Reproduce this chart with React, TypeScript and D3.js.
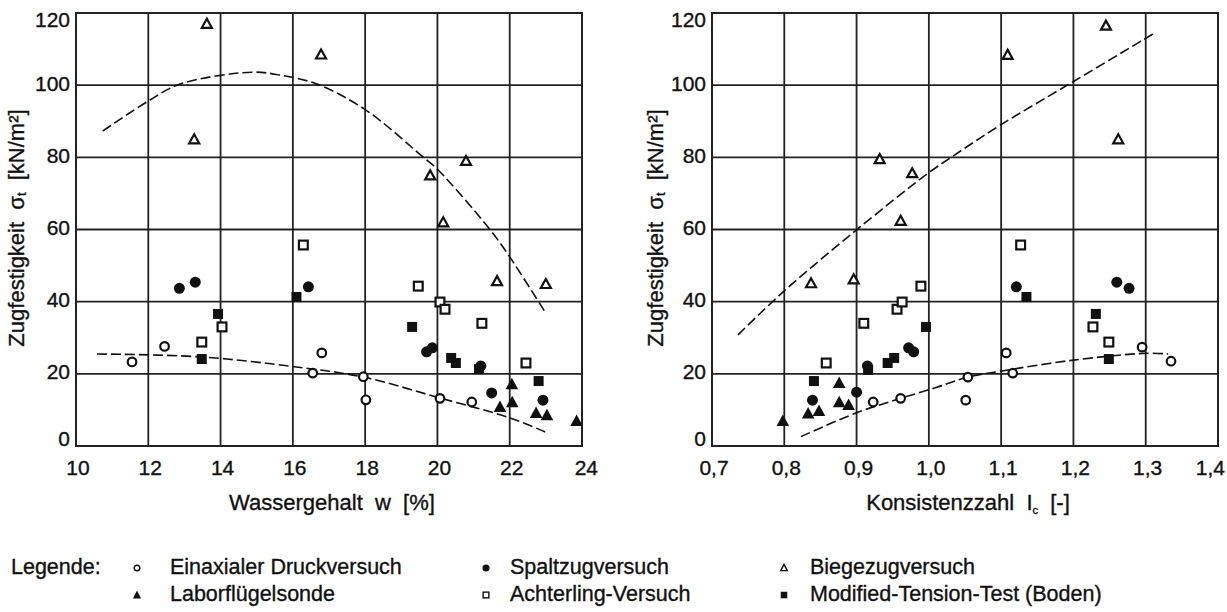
import React from "react";
import * as d3 from "d3";

type Pt = [number, number];

// left panel: Wassergehalt w [%]
const einaxW: Pt[] = [[11.55, 23.3], [12.45, 27.6], [16.55, 20.2], [16.8, 25.8], [17.95, 19.2], [18.02, 12.8], [20.07, 13.2], [20.95, 12.2]];
const spaltW: Pt[] = [[12.86, 43.7], [13.3, 45.4], [16.43, 44.1], [19.7, 26.1], [19.86, 27.2], [21.2, 22.2], [21.5, 14.7], [22.92, 12.7]];
const biegeW: Pt[] = [[13.62, 117], [13.27, 85], [16.78, 108.5], [19.8, 75], [20.79, 79], [20.16, 62], [21.65, 45.7], [23.0, 44.9]];
const laborW: Pt[] = [[21.73, 10.9], [22.06, 17.2], [22.07, 12.2], [22.73, 9.2], [23.03, 8.6], [23.85, 7.0]];
const achterW: Pt[] = [[13.48, 28.8], [14.04, 33], [16.29, 55.7], [19.47, 44.3], [20.07, 39.9], [20.21, 37.9], [21.23, 34], [22.45, 23]];
const mttW: Pt[] = [[13.93, 36.6], [13.48, 24.1], [16.1, 41.3], [19.3, 33], [20.38, 24.4], [20.51, 23], [21.15, 21.3], [22.8, 18]];
const upperW: Pt[] = [[10.74, 87.3], [12, 95.6], [12.88, 100.3], [14.86, 103.6], [15.64, 102.8], [16.67, 100.3], [18.02, 93.1], [19.6, 80.1], [20.02, 76.5], [21.46, 59.9], [22.0, 52.4], [22.98, 37.1]];
const lowerW: Pt[] = [[10.58, 25.5], [13.43, 24.7], [16.1, 21.9], [17.95, 19.1], [20.07, 13.3], [22.0, 7.8], [22.98, 3.9]];

// right panel: Konsistenzzahl Ic [-]
const einaxI: Pt[] = [[0.923, 12.2], [0.961, 13.2], [1.051, 12.7], [1.054, 19.1], [1.107, 25.8], [1.116, 20.2], [1.295, 27.4], [1.335, 23.5]];
const spaltI: Pt[] = [[0.839, 12.7], [0.9, 14.9], [0.915, 22.2], [0.972, 27.2], [0.979, 26.1], [1.121, 44.1], [1.26, 45.4], [1.277, 43.7]];
const biegeI: Pt[] = [[0.837, 45.1], [0.896, 46.2], [0.932, 79.5], [0.961, 62.4], [0.977, 75.6], [1.109, 108.4], [1.245, 116.5], [1.262, 85]];
const laborI: Pt[] = [[0.798, 7], [0.833, 9.1], [0.848, 9.8], [0.876, 17.5], [0.876, 12.2], [0.889, 11.4]];
const achterI: Pt[] = [[0.858, 23], [0.91, 34], [0.956, 37.9], [0.963, 39.9], [0.989, 44.3], [1.127, 55.7], [1.227, 33], [1.249, 28.8]];
const mttI: Pt[] = [[0.841, 18], [0.916, 21.1], [0.943, 23], [0.952, 24.4], [0.996, 33], [1.135, 41.3], [1.231, 36.6], [1.249, 24.1]];
const upperI: Pt[] = [[0.736, 30.8], [0.8, 43], [0.9, 59.9], [0.999, 75.6], [1.036, 80.7], [1.101, 89.2], [1.2, 101], [1.31, 114.2]];
const lowerI: Pt[] = [[0.823, 2.6], [0.9, 9.2], [0.961, 13.2], [1.013, 16.4], [1.054, 19.1], [1.101, 20.8], [1.2, 23.8], [1.301, 25.7], [1.331, 25.5]];

const yTicks = [0, 20, 40, 60, 80, 100, 120];
const wTicks = [10, 12, 14, 16, 18, 20, 22, 24];
const iTicks = [0.7, 0.8, 0.9, 1.0, 1.1, 1.2, 1.3, 1.4];

const legendRows = [
  ["Einaxialer Druckversuch", "Spaltzugversuch", "Biegezugversuch"],
  ["Laborflügelsonde", "Achterling-Versuch", "Modified-Tension-Test (Boden)"],
];
const legendKinds = [
  ["circleOpen", "circleFilled", "triOpen"],
  ["triFilled", "squareOpen", "squareFilled"],
];

const FONT = "'Liberation Sans', Arial, Helvetica, sans-serif";
const INK = "#111";

function Marker({ kind, x, y, s = 1 }: { kind: string; x: number; y: number; s?: number }) {
  const sw = 2.2 * s;
  if (kind === "circleOpen") return <circle cx={x} cy={y} r={4.3 * s} fill="#fff" stroke={INK} strokeWidth={sw} />;
  if (kind === "circleFilled") return <circle cx={x} cy={y} r={5.5 * s} fill={INK} />;
  if (kind === "squareOpen") return <rect x={x - 4.4 * s} y={y - 4.4 * s} width={8.8 * s} height={8.8 * s} fill="#fff" stroke={INK} strokeWidth={sw} />;
  if (kind === "squareFilled") return <rect x={x - 5 * s} y={y - 5 * s} width={10 * s} height={10 * s} fill={INK} />;
  const h = kind === "triOpen" ? 8 * s : 10.5 * s;
  const w = kind === "triOpen" ? 5 * s : 6.3 * s;
  const d = `M${x},${y - h / 2 - 1}L${x + w},${y + h / 2}L${x - w},${y + h / 2}Z`;
  if (kind === "triOpen") return <path d={d} fill="#fff" stroke={INK} strokeWidth={sw} strokeLinejoin="miter" />;
  return <path d={d} fill={INK} />;
}

type PanelProps = {
  left: number;
  right: number;
  xDomain: [number, number];
  xTicks: number[];
  fmt: (v: number) => string;
  series: [string, Pt[]][];
  curves: Pt[][];
  xTitle: React.ReactNode;
  yTitleX: number;
};

const TOP = 13;
const BOTTOM = 446;
const TXT = { stroke: INK, strokeWidth: 0.35 };

function Panel({ left, right, xDomain, xTicks, fmt, series, curves, xTitle, yTitleX }: PanelProps) {
  const x = d3.scaleLinear().domain(xDomain).range([left, right]);
  const y = d3.scaleLinear().domain([0, 120]).range([BOTTOM, TOP]);
  const line = d3
    .line<Pt>()
    .x((d) => x(d[0]))
    .y((d) => y(d[1]))
    .curve(d3.curveCatmullRom.alpha(0.5));
  const mid = (left + right) / 2;
  const last = xTicks[xTicks.length - 1];
  return (
    <g>
      {yTicks.map((t) => (
        <line key={"h" + t} x1={left} x2={right} y1={y(t)} y2={y(t)} stroke="#222" strokeWidth={1.8} />
      ))}
      {xTicks.map((t) => (
        <line key={"v" + t} x1={x(t)} x2={x(t)} y1={TOP} y2={BOTTOM} stroke="#222" strokeWidth={1.8} />
      ))}
      <rect x={left} y={TOP} width={right - left} height={BOTTOM - TOP} fill="none" stroke="#222" strokeWidth={2} />
      {curves.map((c, i) => (
        <path key={"c" + i} d={line(c) ?? ""} fill="none" stroke={INK} strokeWidth={1.6} strokeDasharray="10,4" />
      ))}
      {series.map(([kind, pts]) =>
        pts.map((p, i) => <Marker key={kind + i} kind={kind} x={x(p[0])} y={y(p[1])} />)
      )}
      {yTicks.map((t) => (
        <text
          key={"yl" + t}
          x={left - 6}
          y={y(t) + (t === 120 ? 8 : t === 0 ? -6 : 0)}
          textAnchor="end"
          dominantBaseline="middle"
          fontSize={21}
          {...TXT}
        >
          {t}
        </text>
      ))}
      {xTicks.map((t) => (
        <text
          key={"xl" + t}
          x={t === last ? Math.min(x(t) + 16, 1225) : x(t) + 2}
          y={475}
          textAnchor={t === last ? "end" : "middle"}
          fontSize={21}
          {...TXT}
        >
          {fmt(t)}
        </text>
      ))}
      <text x={mid + 3} y={510} textAnchor="middle" fontSize={22} style={{ whiteSpace: "pre" }} {...TXT}>
        {xTitle}
      </text>
      <text
        transform={`translate(${yTitleX},228) rotate(-90)`}
        textAnchor="middle"
        dominantBaseline="middle"
        fontSize={22}
        style={{ whiteSpace: "pre" }}
        {...TXT}
      >
        Zugfestigkeit  σ<tspan fontSize={13} dy={5}>t</tspan>
        <tspan dy={-5}>  [kN/m²]</tspan>
      </text>
    </g>
  );
}

export default function App() {
  const comma = (v: number) => d3.format(".1f")(v).replace(".", ",");
  const colX = [137, 486, 784];
  const textX = [170, 510, 810];
  const rowY = [568, 595];
  return (
    <div style={{ position: "absolute", left: 0, top: 0 }}>
      <svg width={1227} height={612} style={{ display: "block", background: "#fff", fontFamily: FONT, fill: INK }}>
        <Panel
          left={76}
          right={582}
          xDomain={[10, 24]}
          xTicks={wTicks}
          fmt={(v) => String(v)}
          series={[
            ["triOpen", biegeW],
            ["squareOpen", achterW],
            ["squareFilled", mttW],
            ["circleFilled", spaltW],
            ["triFilled", laborW],
            ["circleOpen", einaxW],
          ]}
          curves={[upperW, lowerW]}
          xTitle={"Wassergehalt  w  [%]"}
          yTitleX={18}
        />
        <Panel
          left={712}
          right={1218}
          xDomain={[0.7, 1.4]}
          xTicks={iTicks}
          fmt={comma}
          series={[
            ["triOpen", biegeI],
            ["squareOpen", achterI],
            ["squareFilled", mttI],
            ["circleFilled", spaltI],
            ["triFilled", laborI],
            ["circleOpen", einaxI],
          ]}
          curves={[upperI, lowerI]}
          xTitle={
            <>
              Konsistenzzahl  I<tspan fontSize={11} dy={4}>c</tspan>
              <tspan dy={-4}>  [-]</tspan>
            </>
          }
          yTitleX={657}
        />
        <text x={11} y={rowY[0]} dominantBaseline="middle" fontSize={21.5} {...TXT}>
          Legende:
        </text>
        {legendRows.map((row, r) =>
          row.map((label, c) => (
            <g key={label}>
              <Marker kind={legendKinds[r][c]} x={colX[c]} y={rowY[r]} s={0.65} />
              <text x={textX[c]} y={rowY[r]} dominantBaseline="middle" fontSize={21.5} {...TXT}>
                {label}
              </text>
            </g>
          ))
        )}
      </svg>
    </div>
  );
}
